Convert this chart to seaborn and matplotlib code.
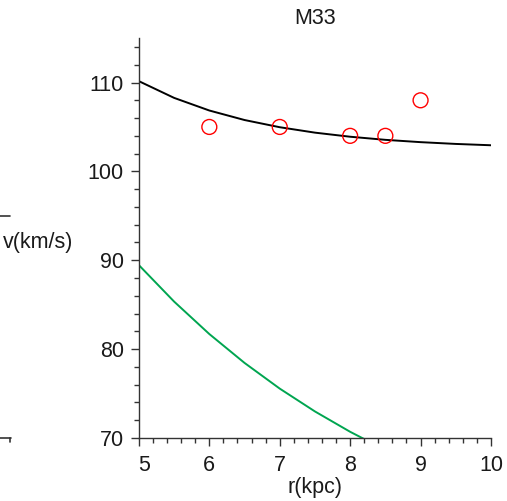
import matplotlib
matplotlib.use("Agg")
import matplotlib.pyplot as plt
from matplotlib.lines import Line2D
from matplotlib.ticker import MultipleLocator
from matplotlib.transforms import ScaledTranslation
import seaborn as sns

# data
r_obs = [6, 7, 8, 8.5, 9]
v_obs = [105, 105, 104, 104, 108]

r_fit = [5, 5.5, 6, 6.5, 7, 7.5, 8, 8.5, 9, 9.5, 10]
v_fit = [110.15, 108.27, 106.85, 105.78, 104.97, 104.36, 103.9, 103.55, 103.29, 103.09, 102.94]

r_green = [5, 5.5, 6, 6.5, 7, 7.5, 8, 8.5]
v_green = [89.45, 85.35, 81.7, 78.45, 75.56, 72.99, 70.7, 68.66]

x_ticks = [5, 6, 7, 8, 9, 10]
y_ticks = [70, 80, 90, 100, 110]

sns.set_style("ticks")
plt.rcParams['font.family'] = ['Liberation Sans', 'DejaVu Sans']
plt.rcParams['text.color'] = '#1a1a1a'

FS = 15.5
fig = plt.figure(figsize=(5.07, 5.01), dpi=100)
ax = fig.add_axes([0.274, 0.1257, 0.6944, 0.7983])

sns.lineplot(x=r_fit, y=v_fit, ax=ax, color='black', linewidth=1.4, sort=False)
sns.lineplot(x=r_green, y=v_green, ax=ax, color='#00a550', linewidth=1.4, sort=False)
sns.scatterplot(x=r_obs, y=v_obs, ax=ax, marker='o', s=115, facecolors='none',
                edgecolor='#ff0000', linewidth=1.0, zorder=5)

ax.set_xlim(5, 10)
ax.set_ylim(70, 115)
ax.set_xticks(x_ticks)
ax.set_yticks(y_ticks)
ax.xaxis.set_minor_locator(MultipleLocator(0.2))
ax.yaxis.set_minor_locator(MultipleLocator(2))

for s in ['top', 'right']:
    ax.spines[s].set_visible(False)
for s in ['left', 'bottom']:
    ax.spines[s].set_color('#333333')
    ax.spines[s].set_linewidth(1.0)

ax.tick_params(axis='both', which='major', direction='out', length=6, width=1.0,
               color='#333333', labelsize=FS, pad=5, labelcolor='#1a1a1a')
ax.tick_params(axis='both', which='minor', direction='out', length=3.5, width=1.0,
               color='#333333')
ax.tick_params(axis='x', which='major', pad=6)

# Maple nudges the first x label away from the y axis
fig.canvas.draw()
lbl = ax.get_xticklabels()[0]
lbl.set_transform(lbl.get_transform() + ScaledTranslation(5 / 100, 0, fig.dpi_scale_trans))

ax.set_title('M33', fontsize=FS, pad=10, color='#1a1a1a')
ax.set_xlabel('r(kpc)', fontsize=FS, labelpad=1, color='#1a1a1a')
ax.set_ylabel('')
fig.text(0.006, 0.515, 'v(km/s)', fontsize=FS, ha='left', va='center', color='#1a1a1a')

# fragments of neighbouring panel at the left edge
fig.add_artist(Line2D([0, 10 / 507], [1 - 216 / 501, 1 - 216 / 501], color='#333333', lw=1.2))
fig.add_artist(Line2D([0, 11 / 507], [1 - 438 / 501, 1 - 438 / 501], color='#333333', lw=1.2))
fig.add_artist(Line2D([10 / 507, 10 / 507], [1 - 438 / 501, 1 - 442 / 501], color='#333333', lw=1.2))

fig.savefig('out.png', dpi=100)
